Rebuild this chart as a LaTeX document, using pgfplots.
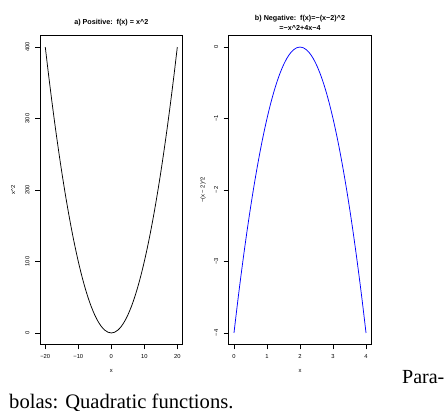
\documentclass[border=0pt]{standalone}
\usepackage{fontspec}
\setmainfont{Liberation Sans}
\newfontfamily\capfont{Liberation Serif}
\usepackage{pgfplots}
\pgfplotsset{compat=1.18}
\pgfplotsset{
  every axis title shift=0pt,
  rstyle/.style={
    scale only axis,
    axis line style={line width=0.8pt},
    tick style={line width=0.6pt, black},
    tick align=outside,
    major tick length=5pt,
    xtick pos=bottom, ytick pos=left,
    ticklabel style={font=\fontsize{5.8}{6}\selectfont},
    xticklabel style={yshift=-2pt},
    yticklabel style={rotate=90, anchor=south, yshift=2pt},
    label style={font=\fontsize{5.8}{6}\selectfont},
    title style={font=\fontsize{7.2}{10}\selectfont\bfseries, align=center, anchor=center},
    xlabel style={at={(axis description cs:0.5,0)}, anchor=center, yshift=-26.5pt},
    /pgf/number format/assume math mode=true,
  }
}
\begin{document}
\begin{tikzpicture}
\path[use as bounding box] (0pt,0pt) rectangle (447pt,-410pt);
\begin{axis}[rstyle,
  at={(40pt,-35.6pt)}, anchor=north west,
  width=142.6pt, height=308.8pt,
  xmin=-21.6, xmax=21.6, ymin=-16, ymax=416,
  xtick={-20,-10,0,10,20}, xticklabels={−20,−10,0,10,20},
  ytick={0,100,200,300,400},
  xlabel={x}, ylabel={x\^{}2},
  ylabel style={at={(axis description cs:0,0.5)}, anchor=center, yshift=27pt},
  title={a) Positive:\ \ f(x) = x\^{}2},
  title style={at={(axis description cs:0.5,1)}, yshift=13pt},
]
\addplot[black, line width=0.75pt, smooth] coordinates {
(-20,400) (-19,361) (-18,324) (-17,289) (-16,256) (-15,225) (-14,196) (-13,169) (-12,144) (-11,121)
(-10,100) (-9,81) (-8,64) (-7,49) (-6,36) (-5,25) (-4,16) (-3,9) (-2,4) (-1,1) (0,0)
(1,1) (2,4) (3,9) (4,16) (5,25) (6,36) (7,49) (8,64) (9,81) (10,100)
(11,121) (12,144) (13,169) (14,196) (15,225) (16,256) (17,289) (18,324) (19,361) (20,400)
};
\end{axis}
\begin{axis}[rstyle,
  at={(228.7pt,-35.6pt)}, anchor=north west,
  width=142.6pt, height=308.8pt,
  xmin=-0.16, xmax=4.16, ymin=-4.16, ymax=0.16,
  xtick={0,1,2,3,4},
  ytick={-4,-3,-2,-1,0}, yticklabels={−4,−3,−2,−1,0},
  xlabel={x}, ylabel={−(x − 2)\^{}2},
  ylabel style={at={(axis description cs:0,0.5)}, anchor=center, yshift=25.7pt},
  title={b) Negative:\ \ f(x)=−(x−2)\^{}2\\=−x\^{}2+4x−4},
  title style={at={(axis description cs:0.5,1)}, yshift=13pt},
]
\addplot[blue, line width=0.75pt, smooth] coordinates {
(0,-4) (0.1,-3.61) (0.2,-3.24) (0.3,-2.89) (0.4,-2.56) (0.5,-2.25) (0.6,-1.96) (0.7,-1.69) (0.8,-1.44) (0.9,-1.21)
(1.0,-1) (1.1,-0.81) (1.2,-0.64) (1.3,-0.49) (1.4,-0.36) (1.5,-0.25) (1.6,-0.16) (1.7,-0.09) (1.8,-0.04) (1.9,-0.01)
(2.0,0) (2.1,-0.01) (2.2,-0.04) (2.3,-0.09) (2.4,-0.16) (2.5,-0.25) (2.6,-0.36) (2.7,-0.49) (2.8,-0.64) (2.9,-0.81)
(3.0,-1) (3.1,-1.21) (3.2,-1.44) (3.3,-1.69) (3.4,-1.96) (3.5,-2.25) (3.6,-2.56) (3.7,-2.89) (3.8,-3.24) (3.9,-3.61) (4.0,-4)
};
\end{axis}
\node[anchor=base west, inner sep=0pt, font=\capfont\fontsize{20}{24}\selectfont] at (402pt,-383pt) {Para-};
\node[anchor=base west, inner sep=0pt, font=\capfont\fontsize{20.6}{24}\selectfont] at (9pt,-408pt) {bolas: Quadratic functions.};
\end{tikzpicture}
\end{document}
